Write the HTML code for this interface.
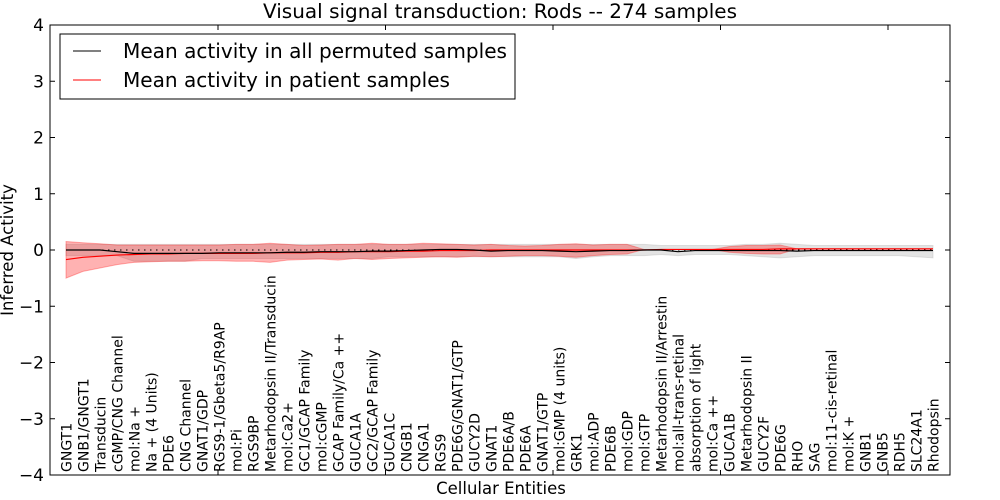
<!DOCTYPE html>
<html><head><meta charset="utf-8"><style>
html,body{margin:0;padding:0;background:#fff;}
svg{display:block;font-family:"DejaVu Sans","Liberation Sans",sans-serif;}
</style></head><body>
<svg id="chart" width="1000" height="500" viewBox="0 0 1000 500" xmlns="http://www.w3.org/2000/svg">
<text x="500" y="18" font-size="19.5" text-anchor="middle" textLength="474" lengthAdjust="spacingAndGlyphs">Visual signal transduction: Rods -- 274 samples</text>
<text transform="translate(13,250) rotate(-90)" font-size="16.5" text-anchor="middle">Inferred Activity</text>
<text x="501" y="494" font-size="16.5" text-anchor="middle">Cellular Entities</text>
<g id="plot"></g>
<rect x="50" y="25" width="900" height="450" fill="none" stroke="#000" stroke-width="1"/>
<g id="axes"></g>
<g>
<rect x="60" y="34" width="455" height="65" fill="#fff" stroke="#000" stroke-width="1"/>
<line x1="73" y1="51" x2="101" y2="51" stroke="#000" stroke-width="1"/>
<text x="123" y="58" font-size="20" textLength="384" lengthAdjust="spacingAndGlyphs">Mean activity in all permuted samples</text>
<line x1="73" y1="80" x2="101" y2="80" stroke="#f00" stroke-width="1"/>
<text x="123" y="87" font-size="20" textLength="327" lengthAdjust="spacingAndGlyphs">Mean activity in patient samples</text>
</g>
</svg>
<script>
const categories = ["GNGT1","GNB1/GNGT1","Transducin","cGMP/CNG Channel","mol:Na +","Na + (4 Units)","PDE6","CNG Channel","GNAT1/GDP","RGS9-1/Gbeta5/R9AP","mol:Pi","RGS9BP","Metarhodopsin II/Transducin","mol:Ca2+","GC1/GCAP Family","mol:cGMP","GCAP Family/Ca ++","GUCA1A","GC2/GCAP Family","GUCA1C","CNGB1","CNGA1","RGS9","PDE6G/GNAT1/GTP","GUCY2D","GNAT1","PDE6A/B","PDE6A","GNAT1/GTP","mol:GMP (4 units)","GRK1","mol:ADP","PDE6B","mol:GDP","mol:GTP","Metarhodopsin II/Arrestin","mol:all-trans-retinal","absorption of light","mol:Ca ++","GUCA1B","Metarhodopsin II","GUCY2F","PDE6G","RHO","SAG","mol:11-cis-retinal","mol:K +","GNB1","GNB5","RDH5","SLC24A1","Rhodopsin"];
const permMean = [0,0,0,-0.03,-0.06,-0.06,-0.06,-0.06,-0.06,-0.05,-0.05,-0.05,-0.05,-0.04,-0.04,-0.03,-0.03,-0.03,-0.02,-0.02,-0.01,0,0.01,0.01,0,-0.02,-0.01,-0.01,-0.01,-0.02,-0.03,-0.02,-0.01,-0.01,0,0,-0.03,-0.01,-0.01,-0.01,-0.01,-0.01,-0.01,-0.02,-0.01,-0.01,-0.01,-0.01,-0.01,-0.01,-0.01,-0.01];
const permUpper = [0.1,0.1,0.1,0.1,0.1,0.1,0.1,0.1,0.1,0.1,0.1,0.1,0.1,0.1,0.1,0.1,0.1,0.1,0.1,0.1,0.1,0.1,0.1,0.1,0.1,0.1,0.1,0.1,0.1,0.1,0.1,0.1,0.1,0.1,0.1,0.08,0.08,0.08,0.08,0.08,0.1,0.1,0.12,0.1,0.08,0.08,0.08,0.08,0.08,0.08,0.08,0.08];
const permLower = [-0.1,-0.1,-0.1,-0.1,-0.2,-0.2,-0.2,-0.2,-0.15,-0.15,-0.15,-0.15,-0.15,-0.15,-0.15,-0.15,-0.15,-0.15,-0.15,-0.12,-0.12,-0.12,-0.12,-0.12,-0.12,-0.12,-0.12,-0.12,-0.12,-0.12,-0.15,-0.12,-0.1,-0.1,-0.1,-0.08,-0.1,-0.08,-0.08,-0.08,-0.1,-0.12,-0.14,-0.12,-0.1,-0.1,-0.1,-0.1,-0.1,-0.1,-0.12,-0.14];
const patMean = [-0.17,-0.13,-0.11,-0.09,-0.08,-0.07,-0.07,-0.06,-0.06,-0.06,-0.06,-0.06,-0.05,-0.05,-0.05,-0.04,-0.04,-0.03,-0.03,-0.03,-0.02,-0.02,-0.01,-0.01,-0.01,0,0,0,0,0,0,0,0,0,0,0.01,0.01,0.01,0.01,0.01,0.01,0.01,0.02,0.02,0.02,0.02,0.02,0.02,0.02,0.02,0.02,0.02];
const patUpper = [0.15,0.13,0.11,0.09,0.09,0.09,0.09,0.09,0.09,0.09,0.1,0.1,0.12,0.1,0.08,0.09,0.1,0.1,0.12,0.1,0.1,0.12,0.11,0.1,0.09,0.1,0.08,0.07,0.08,0.1,0.11,0.09,0.1,0.1,0.01,0.01,0.01,0.01,0.01,0.06,0.08,0.08,0.09,0.02,0.02,0.02,0.02,0.02,0.02,0.02,0.02,0.02];
const patLower = [-0.5,-0.38,-0.32,-0.26,-0.22,-0.21,-0.2,-0.2,-0.19,-0.19,-0.2,-0.2,-0.22,-0.18,-0.17,-0.16,-0.18,-0.15,-0.17,-0.15,-0.14,-0.13,-0.12,-0.13,-0.11,-0.12,-0.11,-0.1,-0.1,-0.11,-0.13,-0.1,-0.08,-0.07,0.01,0.01,0.01,0.01,0.01,-0.04,-0.06,-0.07,-0.07,0.02,0.02,0.02,0.02,0.02,0.02,0.02,0.02,0.02];
const yTicks = [-4,-3,-2,-1,0,1,2,3,4];
const yTickLabels = ["\u22124","\u22123","\u22122","\u22121","0","1","2","3","4"];

const NS = "http://www.w3.org/2000/svg";
const L = 50, R = 950, T = 25, B = 475;
function xs(i){ return 66 + i * (933 - 66) / (categories.length - 1); }
function ys(v){ return 250 - v * (B - T) / 8; }
function mk(tag, attrs, parent){ const e = document.createElementNS(NS, tag); for (const k in attrs) e.setAttribute(k, attrs[k]); parent.appendChild(e); return e; }
const plot = document.getElementById('plot');
const axes = document.getElementById('axes');
function band(up, lo, fill, op, name){
  let d = up.map((v,i)=>(i?'L':'M')+xs(i).toFixed(2)+','+ys(v).toFixed(2)).join('');
  for (let i = lo.length - 1; i >= 0; i--) d += 'L' + xs(i).toFixed(2) + ',' + ys(lo[i]).toFixed(2);
  const p = mk('path', {d: d + 'Z', fill: fill, 'fill-opacity': op, stroke: fill, 'stroke-opacity': op, 'stroke-width': 1}, plot);
  
  
}
function line(vals, color, name){
  const d = vals.map((v,i)=>(i?'L':'M')+xs(i).toFixed(2)+','+ys(v).toFixed(2)).join('');
  const p = mk('path', {d: d, fill: 'none', stroke: color, 'stroke-width': 1.2}, plot);
  
  
}
band(permUpper, permLower, '#b0b0b0', 0.35, 'permuted-band');
band(patUpper, patLower, '#f00', 0.3, 'patient-band');
const zl = mk('line', {x1: xs(0), x2: xs(categories.length-1), y1: ys(0), y2: ys(0), stroke: '#000', 'stroke-dasharray': '1.5,4.5', 'stroke-width': 1}, plot);


line(patMean, '#f00', 'patient-mean-line');
line(permMean, '#000', 'permuted-mean-line');

yTicks.forEach((v,k)=>{
  const y = ys(v);
  mk('line', {x1: L, x2: L + 5, y1: y, y2: y, stroke: '#000'}, axes);
  mk('line', {x1: R - 5, x2: R, y1: y, y2: y, stroke: '#000'}, axes);
  const t = mk('text', {x: L - 6, y: y + 6, 'font-size': 17, 'text-anchor': 'end'}, axes);
  t.textContent = yTickLabels[k];
  
  
});
for (let x = 218; x < R; x += 167.5) {
  mk('line', {x1: x, x2: x, y1: T, y2: T + 5, stroke: '#000'}, axes);
  mk('line', {x1: x, x2: x, y1: B - 5, y2: B, stroke: '#000'}, axes);
}
categories.forEach((c,i)=>{
  const x = xs(i) + 5.5;
  const t = mk('text', {transform: 'translate(' + x.toFixed(2) + ',472) rotate(-90)', 'font-size': 14}, axes);
  t.textContent = c;
  
  
});
</script>
</body></html>
